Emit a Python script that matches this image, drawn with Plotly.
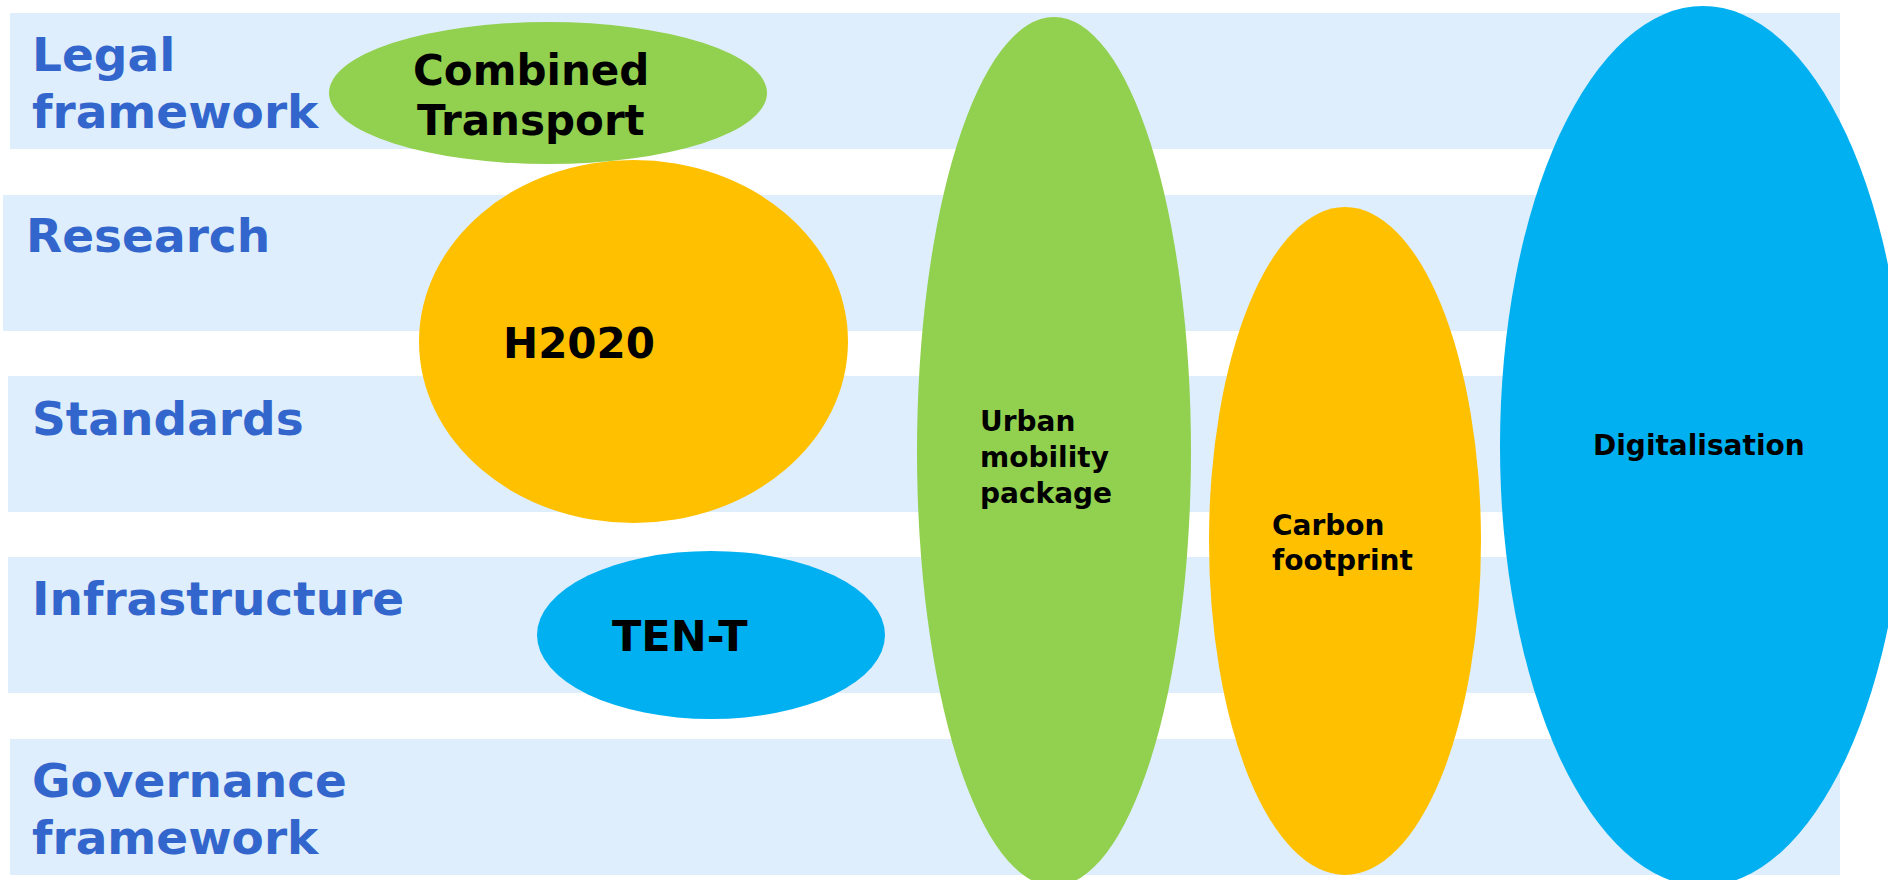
import plotly.graph_objects as go

# Row categories (left labels) and their band extents (in canvas units)
row_labels = ["Legal<br>framework", "Research", "Standards", "Infrastructure", "Governance<br>framework"]
row_y0 = [13, 195, 376, 557, 739]
row_y1 = [149, 331, 512, 693, 875]
row_x0 = [10, 3, 8, 8, 10]
row_x1 = [1840, 1840, 1840, 1840, 1840]
row_label_x = [30, 24, 30, 30, 30]
row_label_y = [83, 235, 418, 598, 809]

# Initiatives drawn as ellipses
init_names = ["H2020", "Combined<br>Transport", "TEN-T", "Urban<br>mobility<br>package",
              "Carbon<br>footprint", "Digitalisation"]
init_x0 = [419, 329, 537, 917, 1209, 1500]
init_x1 = [848, 767, 885, 1191, 1481, 1906]
init_y0 = [160, 22, 551, 17, 207, 6]
init_y1 = [523, 164, 719, 886, 875, 886]
init_colors = ["#FFC000", "#92D050", "#00B0F0", "#92D050", "#FFC000", "#00B0F0"]
init_text_x = [579, 531, 680, 978, 1270, 1699]
init_text_y = [343, 95, 636, 457, 543, 445]
init_text_size = [42, 42, 43, 28, 28, 28]
init_line_gap = [50, 50, 50, 36, 35, 36]
init_text_anchor = ["center", "center", "center", "left", "left", "center"]

W, H = 1888, 880
LABEL_GAP = 57

fig = go.Figure()
fig.add_trace(go.Scatter(x=[0, W], y=[0, H], mode="markers",
                         marker=dict(opacity=0), hoverinfo="skip", showlegend=False))

shapes = []
for x0, x1, y0, y1 in zip(row_x0, row_x1, row_y0, row_y1):
    shapes.append(dict(type="rect", xref="x", yref="y", x0=x0, x1=x1, y0=y0, y1=y1,
                       fillcolor="#DEEEFC", line=dict(width=0), layer="below"))
for x0, x1, y0, y1, c in zip(init_x0, init_x1, init_y0, init_y1, init_colors):
    shapes.append(dict(type="circle", xref="x", yref="y", x0=x0, x1=x1, y0=y0, y1=y1,
                       fillcolor=c, line=dict(width=0), layer="above"))

annotations = []


def add_lines(text, x, yc, gap, anchor, font):
    lines = text.split("<br>")
    n = len(lines)
    for i, ln in enumerate(lines):
        y = yc + (i - (n - 1) / 2) * gap
        annotations.append(dict(x=x, y=y, xref="x", yref="y", text=ln, showarrow=False,
                                xanchor=anchor, yanchor="middle", align="left", font=font))


for lab, x, y in zip(row_labels, row_label_x, row_label_y):
    add_lines(lab, x, y, LABEL_GAP, "left",
              dict(family="DejaVu Sans", size=47, color="#3366CC", weight="bold"))
for t, x, y, s, g, a in zip(init_names, init_text_x, init_text_y, init_text_size,
                            init_line_gap, init_text_anchor):
    add_lines(t, x, y, g, a,
              dict(family="DejaVu Sans", size=s, color="#000000", weight="bold"))

fig.update_layout(
    width=W, height=H, margin=dict(l=0, r=0, t=0, b=0),
    paper_bgcolor="white", plot_bgcolor="white",
    xaxis=dict(range=[0, W], visible=False, fixedrange=True),
    yaxis=dict(range=[H, 0], visible=False, fixedrange=True),
    shapes=shapes, annotations=annotations, showlegend=False,
)

fig.write_html("out.html", config={"displayModeBar": False},
               post_script="document.body.style.margin='0';document.body.style.overflow='hidden';")
